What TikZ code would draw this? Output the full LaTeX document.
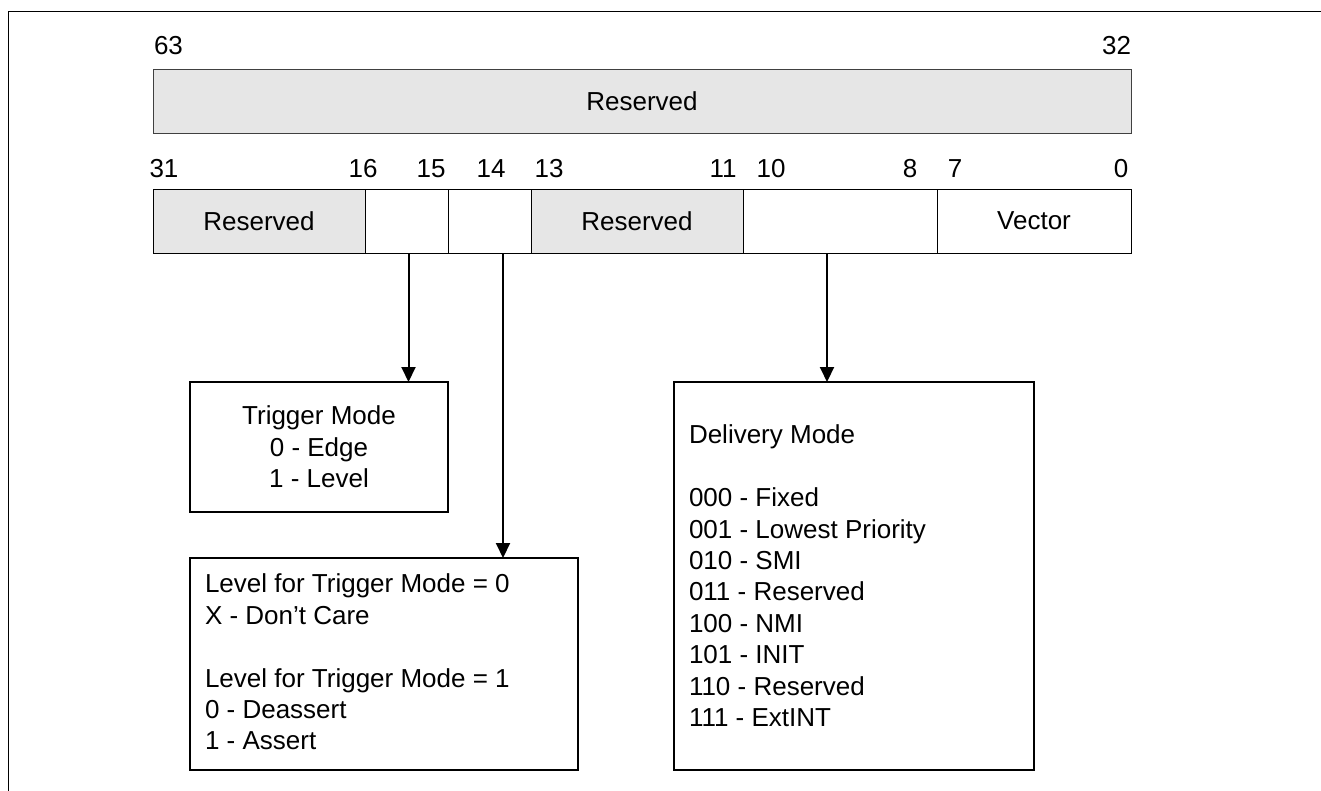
\documentclass[tikz,border=0pt]{standalone}
\usepackage{fontspec}
\setmainfont{Liberation Sans}
\usetikzlibrary{arrows.meta}
\definecolor{resgray}{HTML}{E6E6E6}
\begin{document}
\begin{tikzpicture}[x=1pt,y=-1pt,
  every node/.style={font=\fontsize{26}{31.4}\selectfont, inner sep=0pt, outer sep=0pt},
  field/.style={draw=black, line width=0.9pt, minimum height=64pt, anchor=north west},
  reserved/.style={field, fill=resgray},
  bitno/.style={anchor=center},
  infobox/.style={draw=black, line width=1.8pt, anchor=north west},
  arrow/.style={line width=2pt, -{Triangle[width=14pt,length=15pt]}},
]
\useasboundingbox (0,0) rectangle (1321,790);
% page frame
\draw[line width=1pt] (8,800) -- (8,11) -- (1330,11);

% upper doubleword, bits 63..32
\node[reserved, draw=black!75, minimum width=978pt] (hi) at (153,69) {Reserved};
\node[bitno] (n63) at (168.5,46) {63};
\node[bitno] (n32) at (1116.5,46) {32};

% lower doubleword, bits 31..0
\node[reserved, minimum width=212pt] (res31) at (153,189) {Reserved};
\node[field, minimum width=83pt] (trig) at (365,189) {};
\node[field, minimum width=83pt] (lvl) at (448,189) {};
\node[reserved, minimum width=212pt] (res13) at (531,189) {Reserved};
\node[field, minimum width=194pt] (dmode) at (743,189) {};
\node[field, minimum width=194pt] (vec) at (937,189) {Vector};

\node[bitno] (n31) at (164,169) {31};
\node[bitno] (n16) at (363,169) {16};
\node[bitno] (n15) at (431,169) {15};
\node[bitno] (n14) at (491,169) {14};
\node[bitno] (n13) at (549,169) {13};
\node[bitno] (n11) at (723,169) {11};
\node[bitno] (n10) at (771,169) {10};
\node[bitno] (n8) at (910,169) {8};
\node[bitno] (n7) at (955,169) {7};
\node[bitno] (n0) at (1121,169) {0};

% field descriptions
\node[infobox, align=center, minimum width=258pt, minimum height=130pt] (tm) at (190,382)
  {Trigger Mode\\0 - Edge\\1 - Level};

\node[infobox, minimum width=388pt, minimum height=212pt] (lv) at (190,558) {};
\node[anchor=north west, align=left] (lvtext) at (205,574)
  {Level for Trigger Mode = 0\\X - Don’t Care\\[31.4pt]Level for Trigger Mode = 1\\0 - Deassert\\1 - Assert};

\node[infobox, minimum width=360pt, minimum height=388pt] (dm) at (674,382) {};
\node[anchor=north west, align=left] (dmtext) at (689,425)
  {Delivery Mode\\[31.4pt]000 - Fixed\\001 - Lowest Priority\\010 - SMI\\011 - Reserved\\100 - NMI\\101 - INIT\\110 - Reserved\\111 - ExtINT};

% connectors
\draw[arrow] ([xshift=2pt]trig.south) -- ([xshift=2pt]trig.south |- tm.north);
\draw[arrow] ([xshift=13.5pt]lvl.south) -- ([xshift=13.5pt]lvl.south |- lv.north);
\draw[arrow] ([xshift=-13pt]dmode.south) -- ([xshift=-13pt]dmode.south |- dm.north);
\end{tikzpicture}
\end{document}
